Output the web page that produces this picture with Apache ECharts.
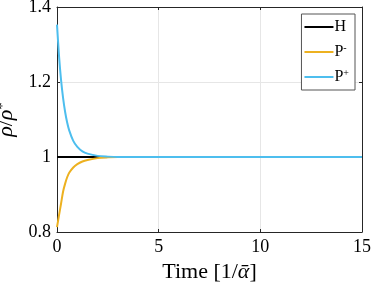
<!DOCTYPE html>
<html><head><meta charset="utf-8">
<script src="https://cdn.jsdelivr.net/npm/echarts@6/dist/echarts.min.js"></script>
<style>html,body{margin:0;padding:0;background:#fff}#c{width:374px;height:284px}</style>
</head><body><div id="c"></div>
<script>
const time = [0, 0.1, 0.2, 0.3, 0.4, 0.5, 0.6, 0.8, 1.0, 1.25, 1.5, 2, 2.5, 3, 5, 10, 15];
const H    = [1, 1, 1, 1, 1, 1, 1, 1, 1, 1, 1, 1, 1, 1, 1, 1, 1];
const Pm   = [0.813, 0.845, 0.876, 0.908, 0.929, 0.946, 0.958, 0.972, 0.981, 0.988, 0.992, 0.997, 0.999, 1, 1, 1, 1];
const Pp   = [1.353, 1.269, 1.205, 1.157, 1.12, 1.092, 1.071, 1.043, 1.027, 1.015, 1.009, 1.003, 1.001, 1, 1, 1, 1];
const xTicks = [0, 5, 10, 15];
const yTicks = [0.8, 1, 1.2, 1.4];

const serif = "'Liberation Serif', 'DejaVu Serif', serif";
const pair = arr => time.map((t, i) => [t, arr[i]]);
const chart = echarts.init(document.getElementById('c'), null, {renderer: 'canvas'});
const axisCol = '#262626';
const common = {
  axisLine: {show: true, onZero: false, lineStyle: {color: axisCol, width: 1}},
  axisTick: {show: true, inside: true, length: 3, lineStyle: {color: axisCol}},
};
chart.setOption({
  animation: false,
  grid: {left: 57, right: 12, top: 7, bottom: 52, containLabel: false, outerBoundsMode: 'none'},
  xAxis: [{
    type: 'value', min: xTicks[0], max: xTicks[xTicks.length - 1], interval: 5,
    ...common,
    axisLabel: {color: '#000', fontFamily: serif, fontSize: 18, margin: 6},
    splitLine: {show: true, lineStyle: {color: '#e6e6e6'}},
    name: 'Time [1/{i|ᾱ}]', nameLocation: 'middle', nameGap: 24,
    nameTextStyle: {color: '#000', fontFamily: serif, fontSize: 22,
      rich: {i: {fontFamily: serif, fontStyle: 'italic', fontSize: 22, color: '#000'}}}
  }, {
    type: 'value', position: 'top', min: 0, max: 15, interval: 5,
    ...common, axisLabel: {show: false}, splitLine: {show: false}
  }],
  yAxis: [{
    type: 'value', min: yTicks[0], max: yTicks[yTicks.length - 1], interval: 0.2,
    ...common,
    axisLabel: {color: '#000', fontFamily: serif, fontSize: 18, margin: 6},
    splitLine: {show: true, lineStyle: {color: '#e6e6e6'}},
    name: '{i|ρ}/{i|ρ}{s|*}', nameLocation: 'middle', nameGap: 23,
    nameTextStyle: {color: '#000', fontFamily: serif, fontSize: 22,
      rich: {i: {fontFamily: serif, fontStyle: 'italic', fontSize: 22, color: '#000'},
             s: {fontFamily: serif, fontSize: 15, color: '#000', verticalAlign: 'top', padding: [0,0,8,0]}}}
  }, {
    type: 'value', position: 'right', min: 0.8, max: 1.4, interval: 0.2,
    ...common, axisLabel: {show: false}, splitLine: {show: false}
  }],
  legend: {
    orient: 'vertical', right: 19, top: 14,
    backgroundColor: '#fff', borderColor: '#555', borderWidth: 1,
    padding: [5, 6, 5, 3], itemGap: 8, itemWidth: 29, itemHeight: 2,
    textStyle: {fontFamily: serif, fontSize: 16, color: '#000', padding: [0,0,0,-4],
      rich: {b: {fontFamily: serif, fontSize: 16, color: '#000', lineHeight: 16},
             s: {fontFamily: serif, fontSize: 10, color: '#000', verticalAlign: 'top', padding: [0,0,8,0]}}},
    formatter: n => n === 'H' ? '{b|H}' : (n === 'P-' ? '{b|P}{s|-}' : '{b|P}{s|+}'),
    data: [{name: 'H', icon: 'rect'}, {name: 'P-', icon: 'rect'}, {name: 'P+', icon: 'rect'}]
  },
  series: [
    {name: 'H', type: 'line', data: pair(H), symbol: 'none', smooth: 0.3, lineStyle: {color: '#000', width: 2}, itemStyle: {color: '#000'}},
    {name: 'P-', type: 'line', data: pair(Pm), symbol: 'none', smooth: 0.3, lineStyle: {color: '#EDB120', width: 2}, itemStyle: {color: '#EDB120'}},
    {name: 'P+', type: 'line', data: pair(Pp), symbol: 'none', smooth: 0.3, lineStyle: {color: '#4DBEEE', width: 2}, itemStyle: {color: '#4DBEEE'}}
  ]
});
</script></body></html>
